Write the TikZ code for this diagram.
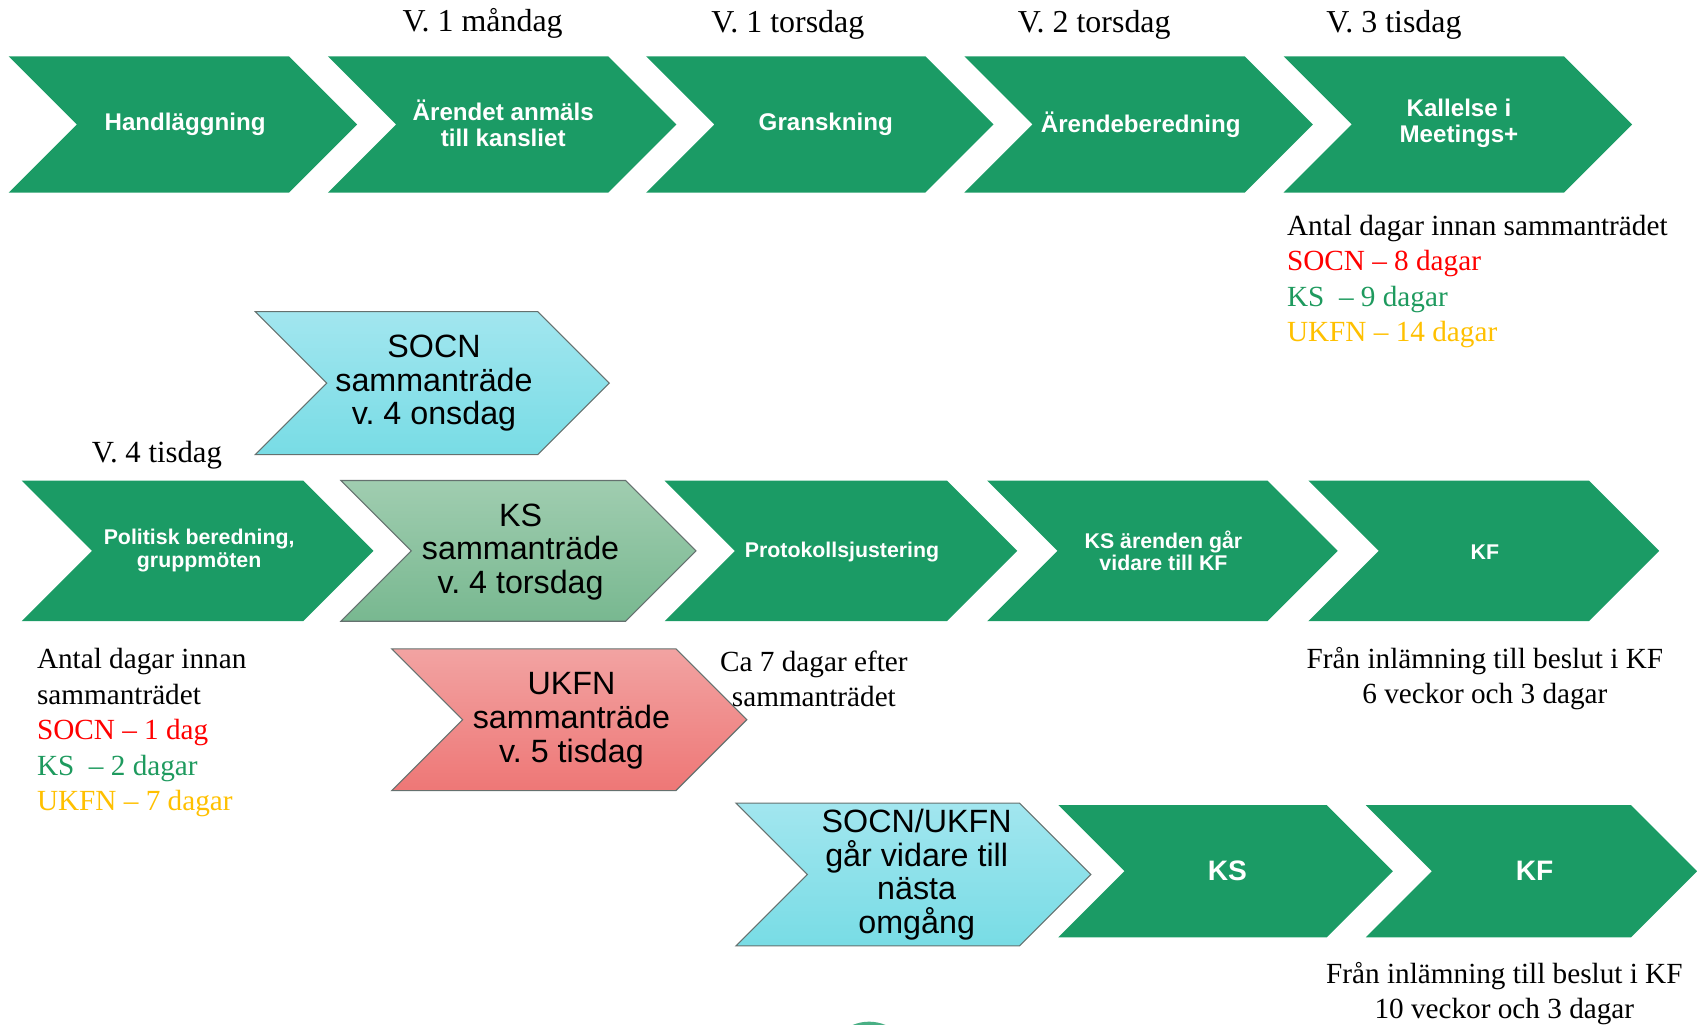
\documentclass[tikz,border=0pt]{standalone}
\usepackage{fontspec}
\setmainfont{Liberation Serif}
\setsansfont{Liberation Sans}
\frenchspacing
\definecolor{flow}{HTML}{1B9B65}
\definecolor{ksgreen}{HTML}{1E9A5E}
\definecolor{ukfnyellow}{HTML}{FFC000}
\definecolor{edge}{HTML}{65716F}
\definecolor{socntop}{HTML}{A2E6EF}
\definecolor{socnbot}{HTML}{78DCE5}
\definecolor{kstop}{HTML}{A0CDB0}
\definecolor{ksbot}{HTML}{78B890}
\definecolor{ukfntop}{HTML}{F2A3A2}
\definecolor{ukfnbot}{HTML}{EE7776}
\tikzset{
  step green/.style={fill=flow},
  step socn/.style={top color=socntop,bottom color=socnbot,draw=edge,line width=1pt},
  step ks/.style={top color=kstop,bottom color=ksbot,draw=edge,line width=1pt},
  step ukfn/.style={top color=ukfntop,bottom color=ukfnbot,draw=edge,line width=1pt},
  day/.style={font=\fontsize{27}{32.7}\selectfont,inner sep=0pt},
  week/.style={font=\fontsize{29.5}{33}\selectfont,inner sep=0pt},
  white big/.style={text=white,font=\fontsize{22.3}{23.5}\selectfont\sffamily\bfseries,align=center,inner sep=0pt},
  white small/.style={text=white,font=\fontsize{19.7}{21}\selectfont\sffamily\bfseries,align=center,inner sep=0pt},
  white wide/.style={text=white,font=\fontsize{26}{28}\selectfont\sffamily\bfseries,align=center,inner sep=0pt},
  meeting/.style={font=\fontsize{29.8}{31}\selectfont\sffamily,align=center,inner sep=0pt},
}
% chevron: [style]{left x}{middle y}{width}{height}
\newcommand{\chevron}[5][]{%
  \pgfmathsetmacro\chvC{#2+#4-#5/2}%
  \pgfmathsetmacro\chvN{#2+#5/2}%
  \path[#1] (#2,{#3-#5/2}) -- (\chvC,{#3-#5/2}) -- ({#2+#4},#3) -- (\chvC,{#3+#5/2})
    -- (#2,{#3+#5/2}) -- (\chvN,#3) -- cycle;}
\begin{document}
\begin{tikzpicture}[x=1pt,y=-1pt]
  \useasboundingbox (0,0) rectangle (1568,947);
  \clip (0,0) rectangle (1568,947);
  % first row
  \chevron[step green]{8}{115}{322}{126}
  \chevron[step green]{303}{115}{322}{126}
  \chevron[step green]{597}{115}{321}{126}
  \chevron[step green]{891}{115}{322}{126}
  \chevron[step green]{1186}{115}{322}{126}
  \node[white big] (handl) at (171,115) {Handläggning};
  \node[white big] (anmal) at (465,114) {Ärendet anmäls\\till kansliet};
  \node[white big] (gransk) at (763,115) {Granskning};
  \node[white big] (bered) at (1054,115) {Ärendeberedning};
  \node[white big] (kall) at (1348,114) {Kallelse i\\Meetings+};
  \node[week] (v1man) at (446,22) {V. 1 måndag};
  \node[week] (v1tor) at (728,23) {V. 1 torsdag};
  \node[week] (v2tor) at (1011,23) {V. 2 torsdag};
  \node[week] (v3tis) at (1288,23) {V. 3 tisdag};
  \node[day,align=left,anchor=west] (kalldays) at (1189,260)
    {Antal dagar innan sammanträdet\\
     \textcolor{red}{SOCN \textendash{} 8 dagar}\\
     \textcolor{ksgreen}{KS\ \ \textendash{} 9 dagar}\\
     \textcolor{ukfnyellow}{UKFN \textendash{} 14 dagar}};
  % SOCN
  \chevron[step socn]{236}{354}{327}{132}
  \node[meeting] (socn) at (401,354) {SOCN\\sammanträde\\v. 4 onsdag};
  \node[week,font=\fontsize{28.4}{33}\selectfont] (v4tis) at (145,421) {V. 4 tisdag};
  % second row
  \chevron[step green]{20}{509}{325}{130}
  \chevron[step ks]{315}{509}{328}{130}
  \chevron[step green]{614}{509}{326}{130}
  \chevron[step green]{912}{509}{324}{130}
  \chevron[step green]{1209}{509}{324}{130}
  \node[white small] (polit) at (184,509) {Politisk beredning,\\gruppmöten};
  \node[meeting] (ks) at (481,510) {KS\\sammanträde\\v. 4 torsdag};
  \node[white small] (protok) at (778,510) {Protokollsjustering};
  \node[white small] (ksvid) at (1075,509) {KS ärenden går\\vidare till KF};
  \node[white small] (kf) at (1372,510) {KF};
  \node[day,align=left,anchor=west] (politdays) at (34,677)
    {Antal dagar innan\\sammanträdet\\
     \textcolor{red}{SOCN \textendash{} 1 dag}\\
     \textcolor{ksgreen}{KS\ \ \textendash{} 2 dagar}\\
     \textcolor{ukfnyellow}{UKFN \textendash{} 7 dagar}};
  \node[day,align=center] (efter) at (752,627) {Ca 7 dagar efter\\sammanträdet};
  \node[day,align=center] (kfsum) at (1372,627) {Från inlämning till beslut i KF\\6 veckor och 3 dagar};
  % UKFN
  \chevron[step ukfn]{362}{665}{328}{131}
  \node[meeting] (ukfn) at (528,666) {UKFN\\sammanträde\\v. 5 tisdag};
  % third row
  \chevron[step socn]{680}{808}{328}{132}
  \chevron[step green]{978}{805}{309}{122}
  \chevron[step green]{1262}{805}{306}{122}
  \node[meeting] (nasta) at (847,808) {SOCN/UKFN\\går vidare till\\nästa\\omgång};
  \node[white wide] (ks2) at (1134,805) {KS};
  \node[white wide] (kf2) at (1418,805) {KF};
  \node[day,align=center] (kfsum2) at (1390,918) {Från inlämning till beslut i KF\\10 veckor och 3 dagar};
  \fill[flow!80!white] (803,983) circle (39);
\end{tikzpicture}
\end{document}
